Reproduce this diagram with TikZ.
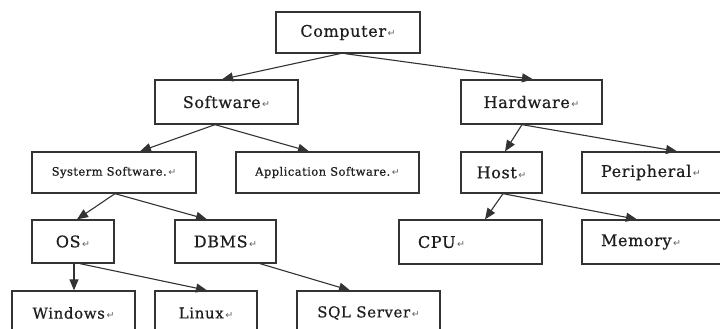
\documentclass[tikz,border=0pt]{standalone}
\usepackage{fontspec}
\setmainfont{DejaVu Serif}
\newfontfamily\markfont{DejaVu Sans}
\usetikzlibrary{arrows.meta}
\definecolor{ink}{HTML}{1E1E1E}
\definecolor{edge}{HTML}{333333}
\newcommand\pmark{{\markfont\fontsize{9.5}{9.5}\selectfont\color{ink!70}\,↵}}
\tikzset{
  box/.style={draw=edge, line width=1.3pt, rectangle, minimum height=#1, align=center, text=ink, inner sep=0pt},
  box/.default=41pt,
  big/.style={font=\fontsize{16}{18}\selectfont\addfontfeature{LetterSpace=4,FakeBold=0.6}},
  small/.style={font=\fontsize{11.5}{13}\selectfont\addfontfeature{LetterSpace=4,FakeBold=0.6}},
  mid/.style={font=\fontsize{15}{17}\selectfont\addfontfeature{LetterSpace=4,FakeBold=0.6}},
  conn/.style={draw=edge, line width=1.1pt, -{Triangle[length=11pt,width=9pt]}},
}
\begin{document}
\begin{tikzpicture}[x=1pt,y=-1pt]
\clip (0,0) rectangle (720,329);
\fill[white] (0,0) rectangle (720,329);
% level 0
\node[box, big, minimum width=144pt] (comp) at (348,32.5) {Computer\pmark};
% level 1
\node[box=44pt, big, minimum width=143pt] (soft) at (226.5,102) {Software\pmark};
\node[box=44pt, big, minimum width=141pt] (hard) at (531.5,102) {Hardware\pmark};
% level 2
\node[box, small, minimum width=164pt] (sys) at (114,172.5) {Systerm Software.\pmark};
\node[box, small, minimum width=183pt] (app) at (327.5,172.5) {Application Software.\pmark};
\node[box, big, minimum width=81pt] (host) at (501.5,172.5) {Host\pmark};
\node[box, big, text width=110pt, align=left, inner xsep=19pt] (peri) at (656,172.5) {Peripheral\pmark};
% level 3
\node[box=43pt, big, minimum width=82pt] (os) at (73,241.5) {OS\pmark};
\node[box=43pt, big, minimum width=101pt] (dbms) at (225.5,241.5) {DBMS\pmark};
\node[box=44pt, big, text width=105pt, align=left, inner xsep=19pt] (cpu) at (470.5,242) {CPU\pmark};
\node[box=44pt, big, text width=110pt, align=left, inner xsep=19pt] (mem) at (656,242) {Memory\pmark};
% level 4
\node[box=44pt, mid, minimum width=123pt] (win) at (73.5,313) {Windows\pmark};
\node[box=44pt, mid, minimum width=102pt] (linux) at (206,313) {Linux\pmark};
\node[box=44pt, mid, minimum width=143pt] (sql) at (368.5,313) {SQL Server\pmark};
% connectors
\draw[conn] ([xshift=-8pt]comp.south) -- ([xshift=-4.5pt]soft.north);
\draw[conn] ([xshift=-3pt]comp.south) -- ([xshift=1.5pt]hard.north);
\draw[conn] ([xshift=-11.5pt]soft.south) -- ([xshift=26pt]sys.north);
\draw[conn] ([xshift=-11.5pt]soft.south) -- ([xshift=-18.5pt]app.north);
\draw[conn] ([xshift=-9.5pt]hard.south) -- ([xshift=3.5pt]host.north);
\draw[conn] ([xshift=-9.5pt]hard.south) -- ([xshift=21pt]peri.north);
\draw[conn] ([xshift=1pt]sys.south) -- ([xshift=4pt]os.north);
\draw[conn] ([xshift=1pt]sys.south) -- ([xshift=-18.5pt]dbms.north);
\draw[conn] ([xshift=1pt]os.south) -- ([xshift=0.5pt]win.north);
\draw[conn] ([xshift=7pt]os.south) -- ([xshift=1pt]linux.north);
\draw[conn] ([xshift=34.5pt]dbms.south) -- ([xshift=-18.5pt]sql.north);
\draw[conn] ([xshift=1.5pt]host.south) -- ([xshift=14.5pt]cpu.north);
\draw[conn] ([xshift=1.5pt]host.south) -- ([xshift=-19pt]mem.north);
\end{tikzpicture}
\end{document}
